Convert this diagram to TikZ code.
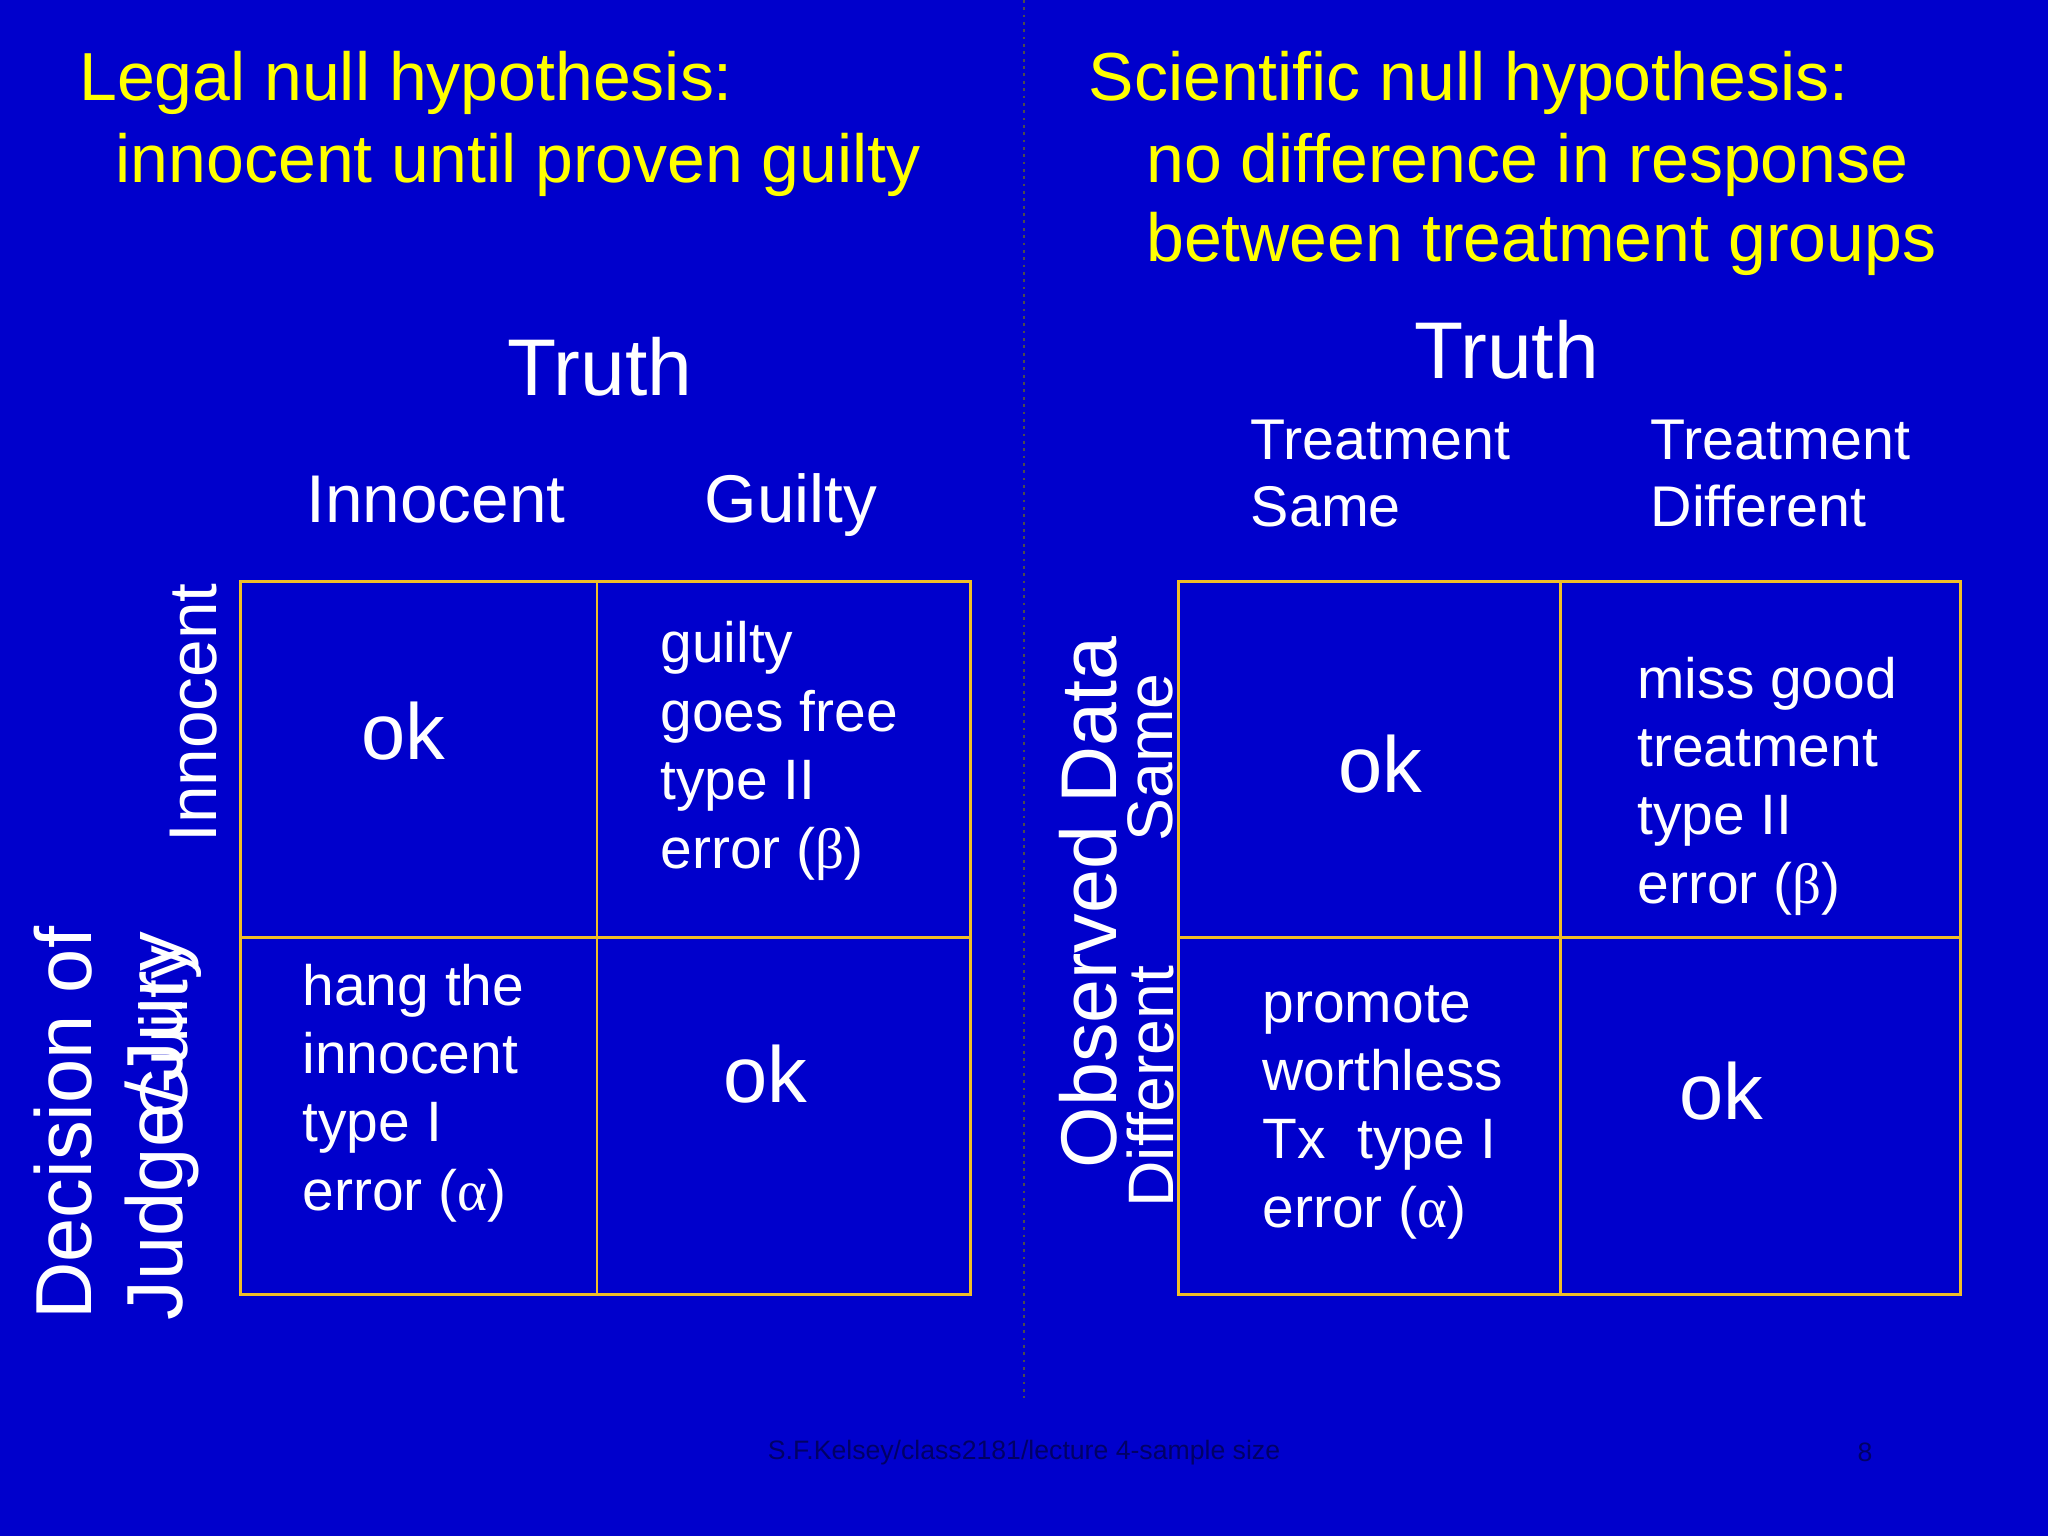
\documentclass[tikz,border=0pt]{standalone}
\usepackage{fontspec}
\setmainfont{Liberation Sans}
\newfontfamily\gk{Liberation Serif}
\definecolor{bg}{RGB}{0,0,204}
\definecolor{gold}{RGB}{240,190,40}
\definecolor{yel}{RGB}{255,255,0}
\begin{document}
\begin{tikzpicture}[x=0.01cm,y=-0.01cm,
  t/.style={text=white,inner sep=0,anchor=base west},
  ti/.style={text=yel,inner sep=0,anchor=base west,font=\fontsize{14.8}{16}\selectfont},
  cell/.style={t,font=\fontsize{12.4}{15}\selectfont},
  okk/.style={text=white,inner sep=0,font=\fontsize{17.3}{20}\selectfont},
  rot/.style={text=white,inner sep=0,rotate=90},
  grid/.style={draw=gold,line width=0.6pt}]
\fill[bg] (0,0) rectangle (1568,1176);
\useasboundingbox (0,0) rectangle (1568,1176);
\draw[black!70,densely dotted,line width=0.6pt] (784,0) -- (784,1070);
% titles
\node[ti] (l1) at (60,77) {Legal null hypothesis:};
\node[ti] (l2) at (88,140) {innocent until proven guilty};
\node[ti] (r1) at (833,77) {Scientific null hypothesis:};
\node[ti] (r2) at (877,140) {no difference in response};
\node[ti] (r3) at (877,200) {between treatment groups};
% left table
\node[t,font=\fontsize{17.5}{20}\selectfont] (lt) at (388,303) {Truth};
\node[t,font=\fontsize{14.7}{17}\selectfont] (li) at (234,400) {Innocent};
\node[t,font=\fontsize{14.7}{17}\selectfont] (lg) at (539,400) {Guilty};
\draw[grid] (184,445) rectangle (743,991) (457,445) -- (457,991) (184,718) -- (743,718);
\node[okk] (ok1) at (309,560) {ok};
\node[okk] (ok2) at (586,822) {ok};
\node[cell] (c1) at (505,507) {guilty};
\node[cell] (c2) at (505,560) {goes free};
\node[cell] (c3) at (505,612) {type II};
\node[cell] (c4) at (505,665) {error ({\gk β})};
\node[cell] (d1) at (231,770) {hang the};
\node[cell] (d2) at (231,822) {innocent};
\node[cell] (d3) at (231,874) {type I};
\node[cell] (d4) at (231,927) {error ({\gk α})};
\node[rot,font=\fontsize{14.7}{17}\selectfont] (ri) at (148,546) {Innocent};
\node[rot,font=\fontsize{14.7}{17}\selectfont] (rg) at (130,790) {Guilty};
\node[rot,font=\fontsize{17.3}{20}\selectfont] (dj1) at (48,860) {Decision of};
\node[rot,font=\fontsize{17.3}{20}\selectfont] (dj2) at (124,862) {Judge/Jury};
% right table
\node[t,font=\fontsize{17.5}{20}\selectfont] (rt) at (1082,290) {Truth};
\node[t,font=\fontsize{12.5}{15}\selectfont] (ts1) at (957,352) {Treatment};
\node[t,font=\fontsize{12.5}{15}\selectfont] (ts2) at (957,403) {Same};
\node[t,font=\fontsize{12.5}{15}\selectfont] (td1) at (1263,352) {Treatment};
\node[t,font=\fontsize{12.5}{15}\selectfont] (td2) at (1263,403) {Different};
\draw[grid] (902,445) rectangle (1501,991) (1195,445) -- (1195,991) (902,718) -- (1501,718);
\node[okk] (ok3) at (1057,585) {ok};
\node[okk] (ok4) at (1318,835) {ok};
\node[cell] (e1) at (1253,535) {miss good};
\node[cell] (e2) at (1253,587) {treatment};
\node[cell] (e3) at (1253,639) {type II};
\node[cell] (e4) at (1253,692) {error ({\gk β})};
\node[cell] (f1) at (966,783) {promote};
\node[cell] (f2) at (966,835) {worthless};
\node[cell] (f3) at (966,887) {Tx\ \ type I};
\node[cell] (f4) at (966,940) {error ({\gk α})};
\node[rot,font=\fontsize{17.2}{20}\selectfont] (od) at (833,691) {Observed Data};
\node[rot,font=\fontsize{14}{16}\selectfont] (os) at (881,580) {Same};
\node[rot,font=\fontsize{14}{16}\selectfont] (odf) at (881,832) {Different};
% footer
\node[text=black!50!bg,inner sep=0,font=\fontsize{5.8}{7}\selectfont] (ft) at (784,1112) {S.F.Kelsey/class2181/lecture 4-sample size};
\node[text=black!50!bg,inner sep=0,font=\fontsize{5.8}{7}\selectfont] (pg) at (1428,1112) {8};
\end{tikzpicture}
\end{document}
